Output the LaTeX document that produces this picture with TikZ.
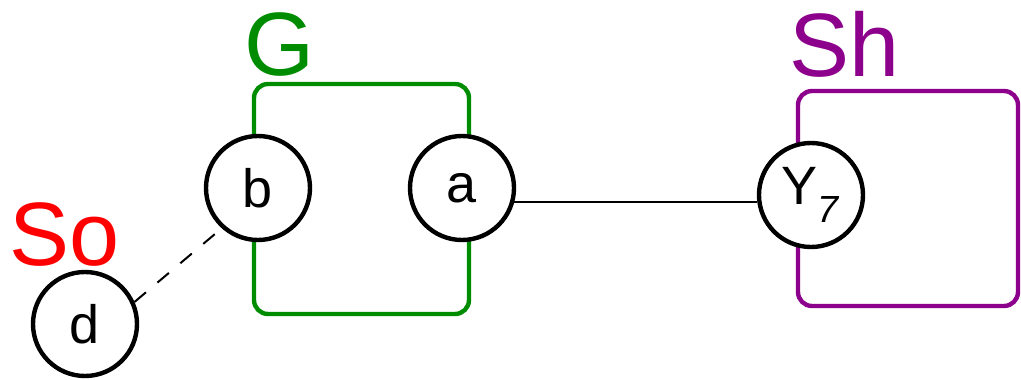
\documentclass[tikz,border=0pt]{standalone}
\usepackage{fontspec}
\setmainfont{Liberation Sans}
\usepackage{tikz}
\usetikzlibrary{calc}

\definecolor{groupgreen}{RGB}{0,140,0}
\definecolor{shpurple}{RGB}{140,0,140}

\begin{document}
\begin{tikzpicture}[x=1pt, y=-1pt,
    vertex/.style={circle, draw, line width=4.4pt, fill=white, minimum size=104pt, inner sep=0pt, font=\fontsize{54}{54}\selectfont},
    grouplabel/.style={anchor=base west, inner sep=0pt, font=\fontsize{90}{90}\selectfont}]
    \useasboundingbox (0,0) rectangle (1021,380);
    % groups
    \draw[groupgreen, line width=4.4pt, rounded corners=14pt] (254,84) rectangle (469,314);
    \draw[shpurple, line width=4.4pt, rounded corners=14pt] (798,91) rectangle (1018,306);
    \node[grouplabel, text=groupgreen] (G) at (244,75) {G};
    \node[grouplabel, text=shpurple] (Sh) at (789,76) {Sh};
    \node[grouplabel, text=red] (So) at (9,265) {So};
    % vertices
    \node[vertex] (b) at (258,188) {b};
    \node[vertex] (a) at (462,188) {a};
    \node[vertex] (Y) at (811,195) {Y\textsubscript{\textit{7}}};
    \node[vertex] (d) at (85,324) {d};
    % edges
    \draw[line width=2pt] (a.-15) -- (a.-15 -| Y.west);
    \draw[dash pattern=on 15pt off 15pt, line width=2pt] (d.24) -- (b.228);
\end{tikzpicture}
\end{document}
